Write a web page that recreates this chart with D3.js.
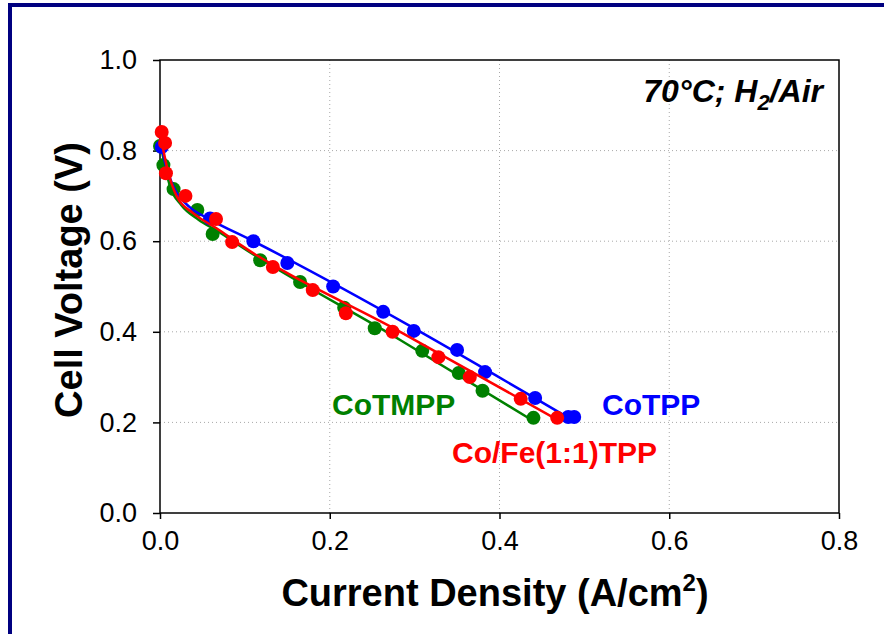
<!DOCTYPE html>
<html>
<head>
<meta charset="utf-8">
<script src="https://cdn.jsdelivr.net/npm/d3@7"></script>
<style>
body { margin: 0; background: #fff; }
text { font-family: "Liberation Sans", Arial, sans-serif; }
.grid line { stroke: #a8a8a8; stroke-width: 1; stroke-dasharray: 1,3; }
</style>
</head>
<body>
<div id="chart"></div>
<script>
// axis ticks
var xTicks = [0.0, 0.2, 0.4, 0.6, 0.8];
var yTicks = [0.0, 0.2, 0.4, 0.6, 0.8, 1.0];

// CoTPP (blue)
var coTppX = [0.002, 0.059, 0.11, 0.15, 0.204, 0.263, 0.299, 0.35, 0.383, 0.442, 0.481, 0.488];
var coTppY = [0.808, 0.65, 0.60, 0.552, 0.50, 0.444, 0.402, 0.36, 0.311, 0.254, 0.212, 0.212];
var coTppFitX = [0.0, 0.006, 0.015, 0.035, 0.057, 0.11, 0.486];
var coTppFitY = [0.83, 0.773, 0.724, 0.675, 0.650, 0.60, 0.205];

// CoTMPP (green)
var coTmppX = [0.0, 0.004, 0.016, 0.044, 0.062, 0.118, 0.165, 0.217, 0.253, 0.309, 0.352, 0.38, 0.44];
var coTmppY = [0.81, 0.768, 0.715, 0.669, 0.616, 0.558, 0.51, 0.453, 0.408, 0.358, 0.309, 0.27, 0.21];
var coTmppFitX = [0.001, 0.012, 0.025, 0.045, 0.07, 0.094, 0.283, 0.44];
var coTmppFitY = [0.81, 0.72, 0.68, 0.648, 0.62, 0.59, 0.382, 0.203];

// Co/Fe(1:1)TPP (red)
var coFeX = [0.002, 0.006, 0.007, 0.03, 0.066, 0.085, 0.133, 0.18, 0.219, 0.274, 0.328, 0.365, 0.425, 0.468];
var coFeY = [0.841, 0.817, 0.75, 0.70, 0.649, 0.598, 0.543, 0.492, 0.441, 0.40, 0.344, 0.30, 0.252, 0.21];
var coFeFitX = [0.002, 0.008, 0.02, 0.039, 0.067, 0.094, 0.283, 0.471];
var coFeFitY = [0.82, 0.765, 0.698, 0.662, 0.628, 0.593, 0.40, 0.203];

function zip(xs, ys) { return xs.map(function(v, i) { return [v, ys[i]]; }); }

var series = [
  {name: "CoTMPP", color: "#008000", pts: zip(coTmppX, coTmppY), fit: zip(coTmppFitX, coTmppFitY)},
  {name: "CoTPP", color: "#0000ff", pts: zip(coTppX, coTppY), fit: zip(coTppFitX, coTppFitY)},
  {name: "Co/Fe(1:1)TPP", color: "#ff0000", pts: zip(coFeX, coFeY), fit: zip(coFeFitX, coFeFitY)}
];

var W = 884, H = 634;
var pLeft = 160, pRight = 839, pTop = 60, pBottom = 513;

var svg = d3.select("#chart").append("svg")
  .attr("width", W).attr("height", H);

// outer navy frame
svg.append("rect")
  .attr("x", 10).attr("y", 5).attr("width", 900).attr("height", 700)
  .attr("fill", "none").attr("stroke", "#000080").attr("stroke-width", 4);

var x = d3.scaleLinear().domain([0, 0.8]).range([pLeft, pRight]);
var y = d3.scaleLinear().domain([0, 1.0]).range([pBottom, pTop]);

// grid
var grid = svg.append("g").attr("class", "grid");
grid.selectAll(".gx").data(xTicks.slice(1, -1)).enter().append("line")
  .attr("x1", function(d) { return x(d); }).attr("x2", function(d) { return x(d); })
  .attr("y1", pTop).attr("y2", pBottom);
grid.selectAll(".gy").data(yTicks.slice(1, -1)).enter().append("line")
  .attr("y1", function(d) { return y(d); }).attr("y2", function(d) { return y(d); })
  .attr("x1", pLeft).attr("x2", pRight);

// plot box
svg.append("rect")
  .attr("x", pLeft).attr("y", pTop).attr("width", pRight - pLeft).attr("height", pBottom - pTop)
  .attr("fill", "none").attr("stroke", "#000").attr("stroke-width", 1.5);

var xAxis = d3.axisBottom(x).tickValues(xTicks).tickFormat(d3.format(".1f"))
  .tickSize(6).tickPadding(12);
var yAxis = d3.axisLeft(y).tickValues(yTicks).tickFormat(d3.format(".1f"))
  .tickSize(7).tickPadding(16);

svg.append("g").attr("transform", "translate(0," + pBottom + ")").call(xAxis)
  .call(function(g) { g.select(".domain").remove(); });
svg.append("g").attr("transform", "translate(" + pLeft + ",0)").call(yAxis)
  .call(function(g) { g.select(".domain").remove(); });

svg.selectAll(".tick line").attr("stroke", "#000").attr("stroke-width", 1.5);
svg.selectAll(".tick text")
  .style("font-family", "'Liberation Sans', Arial, sans-serif")
  .style("font-size", "27px").attr("fill", "#000");

// curves and markers
var line = d3.line()
  .x(function(d) { return x(d[0]); })
  .y(function(d) { return y(d[1]); })
  .curve(d3.curveMonotoneX);

series.forEach(function(s) {
  svg.append("path")
    .attr("d", line(s.fit))
    .attr("fill", "none").attr("stroke", s.color).attr("stroke-width", 2.5);
  svg.selectAll(null).data(s.pts).enter().append("circle")
    .attr("cx", function(d) { return x(d[0]); })
    .attr("cy", function(d) { return y(d[1]); })
    .attr("r", 7).attr("fill", s.color);
});

// series labels
svg.append("text").attr("x", 332).attr("y", 415).attr("fill", "#008000")
  .style("font-size", "30px").style("font-weight", "bold").text("CoTMPP");
svg.append("text").attr("x", 602).attr("y", 415).attr("fill", "#0000ff")
  .style("font-size", "30px").style("font-weight", "bold").text("CoTPP");
svg.append("text").attr("x", 452).attr("y", 463).attr("fill", "#ff0000")
  .style("font-size", "30px").style("font-weight", "bold").text("Co/Fe(1:1)TPP");

// condition note
var note = svg.append("text").attr("x", 823).attr("y", 102).attr("text-anchor", "end")
  .style("font-size", "32px").style("font-weight", "bold").style("font-style", "italic");
note.append("tspan").text("70°C; H");
note.append("tspan").attr("dy", 8).style("font-size", "22px").text("2");
note.append("tspan").attr("dy", -8).text("/Air");

// axis titles
var xt = svg.append("text").attr("x", 495).attr("y", 606).attr("text-anchor", "middle")
  .style("font-size", "38px").style("font-weight", "bold");
xt.append("tspan").text("Current Density (A/cm");
xt.append("tspan").attr("dy", -15).style("font-size", "24px").text("2");
xt.append("tspan").attr("dy", 15).text(")");

svg.append("text")
  .attr("transform", "translate(82,280) rotate(-90)")
  .attr("text-anchor", "middle")
  .style("font-size", "38px").style("font-weight", "bold")
  .text("Cell Voltage (V)");
</script>
</body>
</html>
